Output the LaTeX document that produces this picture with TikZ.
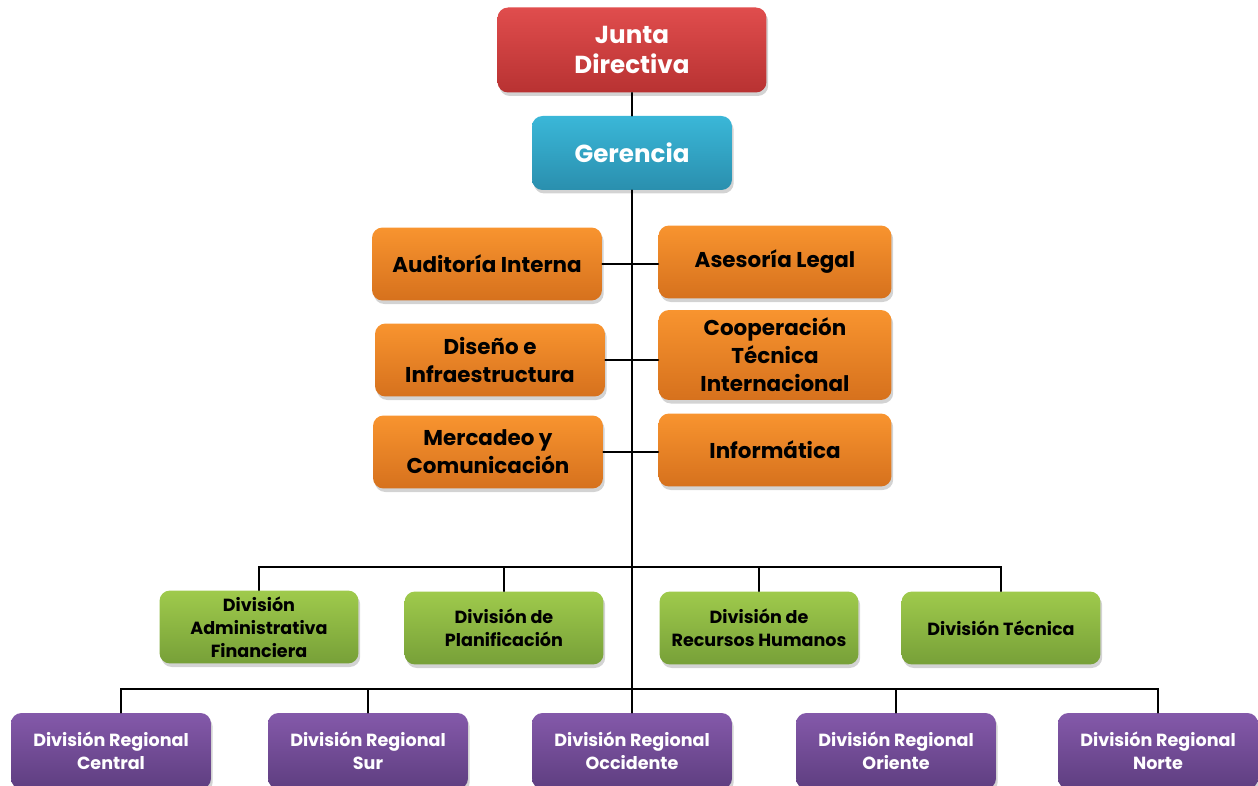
\documentclass[tikz,border=0pt]{standalone}
\usepackage{fontspec}
\setmainfont{Poppins}
\usetikzlibrary{shadows}
\definecolor{redtop}{HTML}{E04D4D}
\definecolor{redbot}{HTML}{B83232}
\definecolor{bluetop}{HTML}{3AB7D8}
\definecolor{bluebot}{HTML}{2A8FAE}
\definecolor{orangetop}{HTML}{F8942F}
\definecolor{orangebot}{HTML}{D6711D}
\definecolor{greentop}{HTML}{9FCA4C}
\definecolor{greenbot}{HTML}{77A038}
\definecolor{purpletop}{HTML}{8459AA}
\definecolor{purplebot}{HTML}{5E3E80}

\begin{document}
\begin{tikzpicture}[x=0.02cm,y=-0.02cm,line cap=round,
  box/.style={rounded corners=6pt,align=center,inner sep=2pt,
    drop shadow={opacity=0.35,shadow xshift=1pt,shadow yshift=-2pt}},
  junta/.style={box,top color=redtop,bottom color=redbot,text=white,
    minimum width=5.38cm,minimum height=1.7cm,font=\fontsize{14}{17}\selectfont\bfseries},
  gerencia/.style={box,top color=bluetop,bottom color=bluebot,text=white,
    minimum width=4cm,minimum height=1.48cm,font=\fontsize{14}{17}\selectfont\bfseries},
  staff/.style={box,top color=orangetop,bottom color=orangebot,text=black,
    minimum width=4.6cm,minimum height=1.46cm,font=\fontsize{12.2}{16}\selectfont\bfseries},
  division/.style={box,top color=greentop,bottom color=greenbot,text=black,
    minimum width=3.98cm,minimum height=1.46cm,font=\fontsize{10}{13}\selectfont\bfseries},
  regional/.style={box,top color=purpletop,bottom color=purplebot,text=white,
    minimum width=4cm,minimum height=1.52cm,font=\fontsize{10}{13}\selectfont\bfseries},
  link/.style={draw=black,line width=1pt}]
\useasboundingbox (0,0) rectangle (1258,786);

% conectores
\coordinate (gbus) at (632,567);
\coordinate (pbus) at (632,689);

% direccion
\node[junta] (junta) at (632,50) {Junta\\Directiva};
\node[gerencia] (gerencia) at (632,153) {Gerencia};

% unidades de apoyo
\node[staff] (auditoria) at (487,264) {Auditoría Interna};
\node[staff,minimum width=4.66cm] (asesoria) at (775,262) {Asesoría Legal};
\node[staff] (diseno) at (490,360) {Diseño e\\Infraestructura};
\node[staff,minimum width=4.66cm,minimum height=1.8cm] (cooperacion) at (775,355) {Cooperación\\Técnica\\Internacional};
\node[staff] (mercadeo) at (488,452) {Mercadeo y\\Comunicación};
\node[staff,minimum width=4.66cm] (informatica) at (775,450) {Informática};

% divisiones
\node[division] (administrativa) at (259,627) {División\\Administrativa\\Financiera};
\node[division] (planificacion) at (504,628) {División de\\Planificación};
\node[division] (rrhh) at (759,628) {División de\\Recursos Humanos};
\node[division] (tecnica) at (1001,628) {División Técnica};

% regionales
\node[regional] (central) at (111,751) {División Regional\\Central};
\node[regional] (sur) at (368,751) {División Regional\\Sur};
\node[regional] (occidente) at (632,751) {División Regional\\Occidente};
\node[regional] (oriente) at (896,751) {División Regional\\Oriente};
\node[regional] (norte) at (1158,751) {División Regional\\Norte};

\draw[link] (junta.south) -- (gerencia.north);
\draw[link] (gerencia.south) -- (occidente.north);
\draw[link] (auditoria.east) -- (auditoria.east -| asesoria.west);
\draw[link] (diseno.east) -- (diseno.east -| cooperacion.west);
\draw[link] (mercadeo.east) -- (mercadeo.east -| informatica.west);
\draw[link] (administrativa.north) |- (gbus) -| (tecnica.north);
\draw[link] (planificacion.north) -- (planificacion.north |- gbus);
\draw[link] (rrhh.north) -- (rrhh.north |- gbus);
\draw[link] ([xshift=0.2cm]central.north) |- (pbus) -| (norte.north);
\draw[link] (sur.north) -- (sur.north |- pbus);
\draw[link] (oriente.north) -- (oriente.north |- pbus);
\end{tikzpicture}
\end{document}
